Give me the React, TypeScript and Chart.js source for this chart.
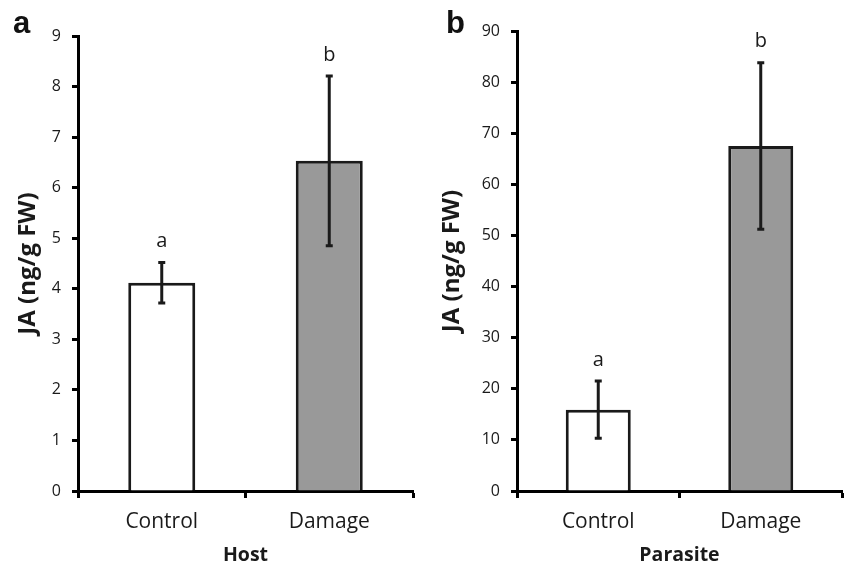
import React, { useEffect, useRef } from 'react';
import { Chart, registerables } from 'chart.js';

Chart.register(...registerables);

// ---- data ----
const categories = ['Control', 'Damage'];
const barColors = ['#ffffff', '#999999'];

const hostMeans = [4.12, 6.53];
const hostErrors = [0.4, 1.68];
const hostLetters = ['a', 'b'];
const hostYMax = 9;
const hostYStep = 1;

const parasiteMeans = [15.9, 67.5];
const parasiteErrors = [5.6, 16.3];
const parasiteLetters = ['a', 'b'];
const parasiteYMax = 90;
const parasiteYStep = 10;

const yTitle = 'JA (ng/g FW)';
const FONT = '"Open Sans", "DejaVu Sans", sans-serif';
const TEXT = '#1a1a1a';

type PanelProps = {
  panel: string;
  xTitle: string;
  means: number[];
  errors: number[];
  letters: string[];
  yMax: number;
  yStep: number;
  width: number;
  height: number;
  areaLeft: number;
  padRight: number;
  padTop: number;
  yTitlePad: number;
  panelX: number;
};

function Panel(p: PanelProps) {
  const ref = useRef<HTMLCanvasElement | null>(null);
  useEffect(() => {
    if (!ref.current) return;
    const overlay = {
      id: 'overlay' + p.panel,
      afterDatasetsDraw(chart: any) {
        const ctx = chart.ctx;
        const meta = chart.getDatasetMeta(0);
        const ys = chart.scales.y;
        const vals = chart.data.datasets[0].data as number[];
        ctx.save();
        ctx.strokeStyle = TEXT;
        ctx.lineWidth = 3;
        meta.data.forEach((bar: any, i: number) => {
          const x = bar.x;
          const top = ys.getPixelForValue(vals[i] + p.errors[i]);
          const bot = ys.getPixelForValue(vals[i] - p.errors[i]);
          ctx.beginPath();
          ctx.moveTo(x, top);
          ctx.lineTo(x, bot);
          ctx.stroke();
          ctx.beginPath();
          ctx.moveTo(x - 3.5, top);
          ctx.lineTo(x + 3.5, top);
          ctx.moveTo(x - 3.5, bot);
          ctx.lineTo(x + 3.5, bot);
          ctx.stroke();
          ctx.fillStyle = TEXT;
          ctx.font = '20px ' + FONT;
          ctx.textAlign = 'center';
          ctx.textBaseline = 'middle';
          ctx.fillText(p.letters[i], x, top - 21);
        });
        ctx.fillStyle = '#111';
        ctx.font = 'bold 31px "Liberation Sans", Arial, sans-serif';
        ctx.textAlign = 'left';
        ctx.textBaseline = 'alphabetic';
        ctx.fillText(p.panel, p.panelX, 33);
        ctx.restore();
      },
    };
    const chart = new Chart(ref.current, {
      type: 'bar',
      data: {
        labels: categories,
        datasets: [
          {
            data: p.means,
            backgroundColor: barColors,
            borderColor: TEXT,
            borderWidth: 3,
            barPercentage: 0.4,
            categoryPercentage: 1,
          },
        ],
      },
      options: {
        responsive: false,
        animation: false,
        devicePixelRatio: 1,
        layout: { padding: { left: 0, right: p.padRight, top: p.padTop, bottom: 0 } },
        plugins: { legend: { display: false }, tooltip: { enabled: false } },
        scales: {
          x: {
            offset: true,
            ticks: { color: TEXT, font: { family: FONT, size: 21 }, padding: 11 },
            grid: {
              offset: true,
              drawOnChartArea: false,
              drawTicks: true,
              tickLength: 7,
              tickWidth: 3,
              tickColor: '#000',
            },
            border: { display: true, color: '#000', width: 3 },
            title: {
              display: true,
              text: p.xTitle,
              color: TEXT,
              font: { family: FONT, size: 19.5, weight: 'bold' },
              padding: { top: 0, bottom: 0 },
            },
            afterFit: (s: any) => {
              s.height = 76;
            },
          },
          y: {
            min: 0,
            max: p.yMax,
            ticks: { stepSize: p.yStep, color: TEXT, font: { family: FONT, size: 16 }, padding: 11 },
            grid: {
              drawOnChartArea: false,
              drawTicks: true,
              tickLength: 6,
              tickWidth: 3,
              tickColor: '#000',
            },
            border: { display: true, color: '#000', width: 3 },
            title: {
              display: true,
              text: yTitle,
              color: TEXT,
              font: { family: FONT, size: 24, weight: 'bold' },
              padding: { top: p.yTitlePad, bottom: 0 },
            },
            afterFit: (s: any) => {
              s.width = p.areaLeft;
            },
          },
        },
      } as any,
      plugins: [overlay],
    });
    return () => chart.destroy();
  }, []);
  return <canvas ref={ref} width={p.width} height={p.height} style={{ display: 'block' }} />;
}

export default function App() {
  return (
    <div style={{ position: 'absolute', left: 0, top: 0, width: 845, height: 567, background: '#fff' }}>
      <div style={{ position: 'absolute', left: 0, top: 0 }}>
        <Panel
          panel="a"
          xTitle="Host"
          means={hostMeans}
          errors={hostErrors}
          letters={hostLetters}
          yMax={hostYMax}
          yStep={hostYStep}
          width={420}
          height={567}
          areaLeft={78}
          padRight={7}
          padTop={36}
          yTitlePad={14}
          panelX={13}
        />
      </div>
      <div style={{ position: 'absolute', left: 420, top: 0 }}>
        <Panel
          panel="b"
          xTitle="Parasite"
          means={parasiteMeans}
          errors={parasiteErrors}
          letters={parasiteLetters}
          yMax={parasiteYMax}
          yStep={parasiteYStep}
          width={425}
          height={567}
          areaLeft={97}
          padRight={3}
          padTop={31}
          yTitlePad={18}
          panelX={26}
        />
      </div>
    </div>
  );
}
